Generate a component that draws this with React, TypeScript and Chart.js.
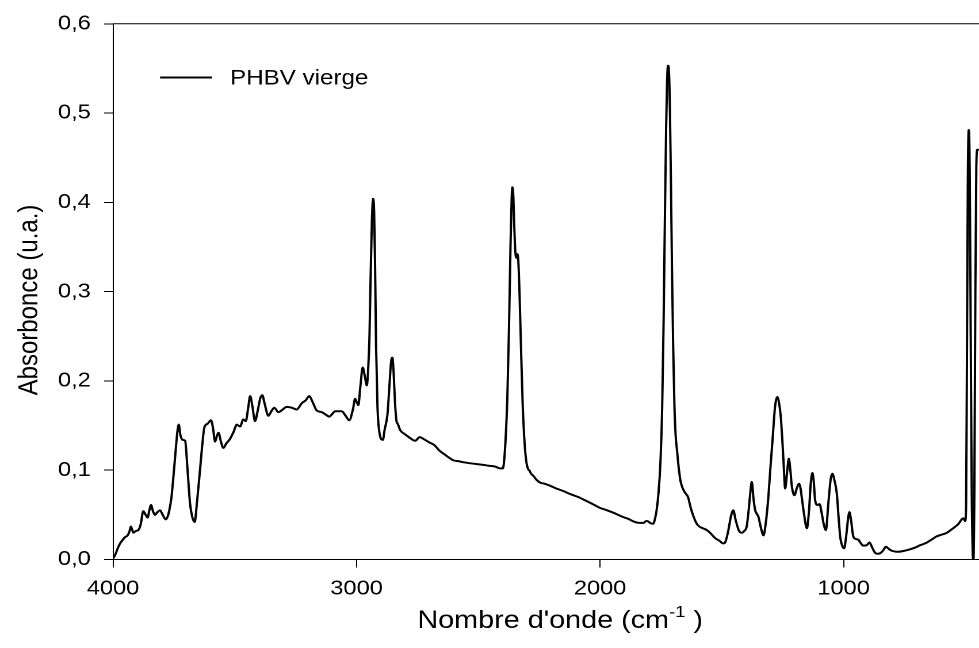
import { useEffect, useRef } from "react";
import { Chart, registerables } from "chart.js";

Chart.register(...registerables);

// ---- data ----
const wavenumbers: number[] = [
  4000, 3990, 3980, 3971, 3960, 3951, 3940, 3932, 3927, 3921, 3917, 3906, 3896, 3886, 3876, 3866, 3858, 3851, 3844, 3836,
  3828, 3818, 3807, 3796, 3784, 3776, 3769, 3760, 3752, 3742, 3735, 3730, 3724, 3714, 3704, 3695, 3684, 3675, 3665, 3655,
  3643, 3633, 3625, 3612, 3598, 3590, 3581, 3574, 3567, 3557, 3547, 3535, 3520, 3505, 3492, 3478, 3465, 3455, 3445, 3437,
  3428, 3417, 3405, 3395, 3387, 3378, 3362, 3350, 3338, 3321, 3303, 3287, 3266, 3246, 3225, 3210, 3194, 3180, 3164, 3143,
  3125, 3112, 3100, 3088, 3061, 3045, 3030, 3015, 3006, 2999, 2993, 2984, 2975, 2966, 2958, 2952, 2947, 2942, 2937, 2932,
  2928, 2924, 2920, 2914, 2906, 2899, 2892, 2885, 2873, 2865, 2858, 2853, 2848, 2842, 2836, 2831, 2821, 2800, 2780, 2760,
  2740, 2725, 2700, 2680, 2660, 2640, 2620, 2602, 2580, 2563, 2540, 2510, 2480, 2458, 2430, 2410, 2400, 2395, 2388, 2381,
  2374, 2368, 2363, 2360, 2356, 2352, 2348, 2344, 2340, 2336, 2331, 2325, 2318, 2310, 2302, 2295, 2291, 2283, 2275, 2260,
  2245, 2230, 2200, 2175, 2154, 2120, 2090, 2063, 2030, 2002, 1970, 1942, 1910, 1880, 1866, 1840, 1821, 1812, 1805, 1795,
  1782, 1775, 1768, 1760, 1752, 1745, 1739, 1734, 1729, 1725, 1721, 1717, 1713, 1709, 1705, 1700, 1695, 1690, 1684, 1676,
  1669, 1661, 1654, 1646, 1639, 1628, 1616, 1605, 1593, 1578, 1562, 1545, 1528, 1510, 1494, 1485, 1473, 1463, 1453, 1444,
  1436, 1427, 1418, 1408, 1398, 1390, 1383, 1377, 1370, 1363, 1356, 1350, 1340, 1329, 1320, 1309, 1300, 1291, 1282, 1272,
  1265, 1258, 1252, 1247, 1240, 1232, 1225, 1218, 1213, 1202, 1192, 1183, 1177, 1172, 1162, 1151, 1142, 1135, 1128, 1122,
  1117, 1107, 1099, 1090, 1082, 1073, 1062, 1053, 1046, 1038, 1028, 1020, 1014, 1005, 998, 990, 982, 976, 970, 960,
  950, 939, 929, 919, 905, 894, 882, 871, 860, 850, 838, 826, 815, 802, 790, 775, 750, 727, 705, 686,
  670, 658, 640, 617, 595, 576, 560, 542, 528, 515, 508, 501, 497, 494, 490, 486, 482, 478, 474, 470,
  467, 463, 459, 455, 451, 444,
];

const absorbance: number[] = [
  0.001, 0.006, 0.013, 0.018, 0.022, 0.025, 0.027, 0.032, 0.037, 0.033, 0.030, 0.032, 0.033, 0.040, 0.054, 0.050, 0.047, 0.055, 0.061, 0.054,
  0.050, 0.053, 0.055, 0.050, 0.045, 0.048, 0.055, 0.070, 0.093, 0.125, 0.145, 0.151, 0.140, 0.134, 0.133, 0.104, 0.063, 0.048, 0.042, 0.065,
  0.100, 0.130, 0.148, 0.152, 0.156, 0.148, 0.132, 0.138, 0.142, 0.132, 0.125, 0.130, 0.135, 0.143, 0.151, 0.149, 0.157, 0.155, 0.170, 0.183,
  0.172, 0.155, 0.168, 0.181, 0.184, 0.175, 0.161, 0.166, 0.170, 0.165, 0.168, 0.171, 0.170, 0.168, 0.175, 0.178, 0.183, 0.176, 0.167, 0.165,
  0.162, 0.160, 0.163, 0.166, 0.166, 0.161, 0.156, 0.168, 0.180, 0.176, 0.173, 0.195, 0.215, 0.205, 0.195, 0.215, 0.250, 0.320, 0.380, 0.404,
  0.390, 0.330, 0.240, 0.170, 0.142, 0.135, 0.134, 0.145, 0.163, 0.195, 0.222, 0.226, 0.210, 0.175, 0.155, 0.152, 0.145, 0.140, 0.136, 0.133,
  0.137, 0.135, 0.131, 0.128, 0.122, 0.118, 0.114, 0.111, 0.110, 0.109, 0.108, 0.107, 0.106, 0.105, 0.104, 0.102, 0.102, 0.108, 0.135, 0.180,
  0.260, 0.350, 0.405, 0.417, 0.405, 0.370, 0.345, 0.338, 0.342, 0.335, 0.300, 0.240, 0.175, 0.130, 0.108, 0.101, 0.100, 0.096, 0.094, 0.089,
  0.086, 0.085, 0.082, 0.079, 0.077, 0.073, 0.070, 0.0665, 0.062, 0.058, 0.055, 0.052, 0.048, 0.045, 0.043, 0.041, 0.041, 0.043, 0.043, 0.041,
  0.040, 0.045, 0.055, 0.075, 0.110, 0.170, 0.270, 0.380, 0.480, 0.535, 0.553, 0.545, 0.500, 0.420, 0.330, 0.240, 0.175, 0.140, 0.122, 0.100,
  0.087, 0.080, 0.076, 0.073, 0.070, 0.058, 0.048, 0.041, 0.037, 0.035, 0.033, 0.029, 0.024, 0.021, 0.018, 0.020, 0.033, 0.048, 0.055, 0.045,
  0.037, 0.031, 0.030, 0.032, 0.037, 0.055, 0.075, 0.087, 0.068, 0.055, 0.051, 0.048, 0.036, 0.027, 0.040, 0.070, 0.105, 0.137, 0.170, 0.182,
  0.175, 0.160, 0.135, 0.111, 0.0795, 0.098, 0.113, 0.098, 0.083, 0.072, 0.080, 0.085, 0.080, 0.070, 0.050, 0.035, 0.055, 0.085, 0.097, 0.085,
  0.0665, 0.061, 0.062, 0.052, 0.040, 0.033, 0.065, 0.090, 0.096, 0.089, 0.074, 0.045, 0.0255, 0.015, 0.0125, 0.025, 0.045, 0.053, 0.045, 0.0255,
  0.023, 0.022, 0.018, 0.0155, 0.016, 0.019, 0.013, 0.0076, 0.0065, 0.007, 0.010, 0.0143, 0.012, 0.0098, 0.009, 0.0087, 0.0098, 0.0114, 0.0135, 0.016,
  0.0175, 0.019, 0.022, 0.026, 0.028, 0.030, 0.033, 0.0367, 0.040, 0.045, 0.046, 0.043, 0.060, 0.200, 0.420, 0.481, 0.430, 0.250, 0.080, 0.010,
  0.000, 0.080, 0.300, 0.440, 0.459, 0.459,
];

const xTickValues: number[] = [4000, 3000, 2000, 1000];
const yTickValues: number[] = [0, 0.1, 0.2, 0.3, 0.4, 0.5, 0.6];
const xMin = 444;
const xMax = 4000;
const yMin = 0;
const yMax = 0.6;

const seriesLabel = "PHBV vierge";
const xTitleMain = "Nombre d'onde (cm";
const xTitleSup = "-1";
const xTitleEnd = " )";
const yTitle = "Absorbonce (u.a.)";

// ---- layout ----
const VIEW_W = 979;
const VIEW_H = 648;
const STRETCH = 1.15; // reference is horizontally stretched
const CANVAS_W = Math.round(VIEW_W / STRETCH);
const FONT = "'Liberation Sans', Arial, Helvetica, sans-serif";
const PLOT_LEFT = 113 / STRETCH;
const PLOT_TOP = 22.5;
const PLOT_BOTTOM = 559.5;

const decorPlugin = {
  id: "decor",
  afterDraw(chart: any) {
    const { ctx, chartArea } = chart;
    ctx.save();
    // top frame line
    ctx.strokeStyle = "#000";
    ctx.lineWidth = 1;
    ctx.beginPath();
    ctx.moveTo(chartArea.left, chartArea.top);
    ctx.lineTo(chartArea.right, chartArea.top);
    ctx.stroke();

    // legend
    const ds = chart.data.datasets[0];
    ctx.strokeStyle = ds.borderColor;
    ctx.lineWidth = 2;
    ctx.beginPath();
    ctx.moveTo(160 / STRETCH, 77.5);
    ctx.lineTo(212 / STRETCH, 77.5);
    ctx.stroke();
    ctx.fillStyle = "#000";
    ctx.font = `21px ${FONT}`;
    ctx.textAlign = "left";
    ctx.textBaseline = "middle";
    ctx.fillText(ds.label, 230 / STRETCH, 78.5);

    // y title
    ctx.save();
    ctx.translate(30 / STRETCH, 300);
    ctx.rotate(-Math.PI / 2);
    ctx.font = `24px ${FONT}`;
    ctx.textAlign = "center";
    ctx.textBaseline = "middle";
    ctx.fillText(yTitle, 0, 0);
    ctx.restore();

    // x title with superscript
    const mainFont = `25px ${FONT}`;
    const supFont = `16px ${FONT}`;
    ctx.font = mainFont;
    const w1 = ctx.measureText(xTitleMain).width;
    const w3 = ctx.measureText(xTitleEnd).width;
    ctx.font = supFont;
    const w2 = ctx.measureText(xTitleSup).width;
    const total = w1 + w2 + w3;
    const cx = 560 / STRETCH;
    const baseY = 628;
    let x = cx - total / 2;
    ctx.textAlign = "left";
    ctx.textBaseline = "alphabetic";
    ctx.font = mainFont;
    ctx.fillText(xTitleMain, x, baseY);
    x += w1;
    ctx.font = supFont;
    ctx.fillText(xTitleSup, x, baseY - 11);
    x += w2;
    ctx.font = mainFont;
    ctx.fillText(xTitleEnd, x, baseY);
    ctx.restore();
  },
};

export default function App() {
  const canvasRef = useRef<HTMLCanvasElement | null>(null);

  useEffect(() => {
    const canvas = canvasRef.current;
    if (!canvas) return;
    const points = wavenumbers.map((w, i) => ({ x: w, y: absorbance[i] }));
    const chart = new Chart(canvas, {
      type: "line",
      data: {
        datasets: [
          {
            label: seriesLabel,
            data: points,
            borderColor: "#000000",
            borderWidth: 2,
            pointRadius: 0,
            fill: false,
            cubicInterpolationMode: "monotone",
          },
        ],
      },
      options: {
        animation: false,
        responsive: false,
        devicePixelRatio: 2,
        events: [],
        layout: { padding: { top: PLOT_TOP, right: 0, left: 0, bottom: 0 } },
        plugins: {
          legend: { display: false },
          tooltip: { enabled: false },
          title: { display: false },
        },
        scales: {
          x: {
            type: "linear",
            reverse: true,
            min: xMin,
            max: xMax,
            afterBuildTicks: (scale: any) => {
              scale.ticks = xTickValues.map((v) => ({ value: v }));
            },
            afterFit: (scale: any) => {
              scale.height = VIEW_H - PLOT_BOTTOM;
            },
            grid: {
              display: true,
              drawOnChartArea: false,
              drawTicks: true,
              tickLength: 8,
              tickColor: "#000",
              tickWidth: 1,
            },
            border: { display: true, color: "#000", width: 1 },
            ticks: {
              color: "#000",
              font: { family: FONT, size: 20.5 },
              padding: 9,
              maxRotation: 0,
              autoSkip: false,
              callback: (v: any) => String(v),
            },
          },
          y: {
            type: "linear",
            min: yMin,
            max: yMax,
            afterBuildTicks: (scale: any) => {
              scale.ticks = yTickValues.map((v) => ({ value: v }));
            },
            afterFit: (scale: any) => {
              scale.width = PLOT_LEFT;
            },
            grid: {
              display: true,
              drawOnChartArea: false,
              drawTicks: true,
              tickLength: 9 / STRETCH,
              tickColor: "#000",
              tickWidth: 1,
            },
            border: { display: true, color: "#000", width: 1 },
            ticks: {
              color: "#000",
              font: { family: FONT, size: 20.5 },
              padding: 11.5,
              autoSkip: false,
              callback: (v: any) => Number(v).toFixed(1).replace(".", ","),
            },
          },
        },
      },
      plugins: [decorPlugin],
    });
    return () => chart.destroy();
  }, []);

  return (
    <div
      style={{
        position: "fixed",
        left: 0,
        top: 0,
        width: VIEW_W,
        height: VIEW_H,
        overflow: "hidden",
        background: "#fff",
      }}
    >
      <canvas
        ref={canvasRef}
        width={CANVAS_W}
        height={VIEW_H}
        style={{ width: `${VIEW_W}px`, height: `${VIEW_H}px`, display: "block" }}
      />
    </div>
  );
}
